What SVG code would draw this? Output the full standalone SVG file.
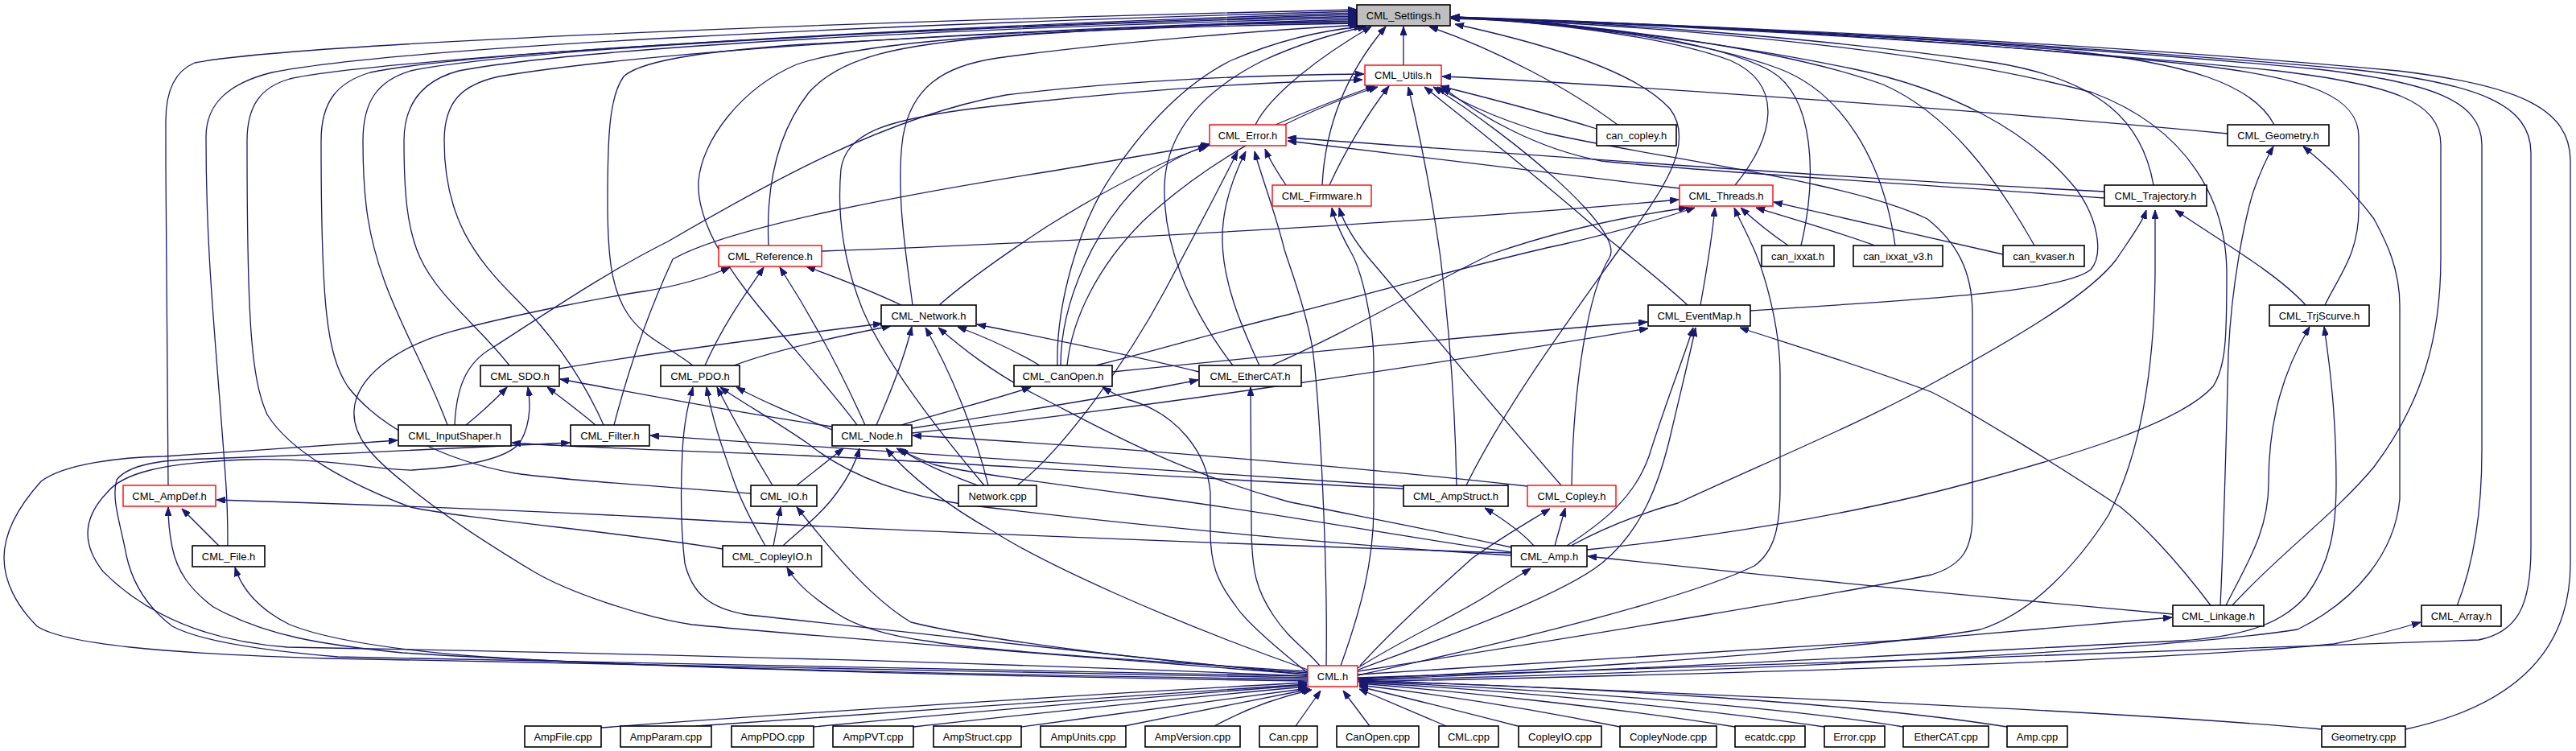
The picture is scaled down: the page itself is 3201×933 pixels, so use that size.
<svg xmlns="http://www.w3.org/2000/svg" width="3201" height="933" viewBox="0 0 3201 933">
<defs>
<marker id="a" markerWidth="11" markerHeight="8" refX="11" refY="4" orient="auto" markerUnits="userSpaceOnUse"><path d="M0,0 L11,4 L0,8 z" fill="#191970" stroke="#191970" stroke-width="1"/></marker>
</defs>
<style>
.e{fill:none;stroke:#191970;stroke-width:1.3;marker-end:url(#a)}
.n rect{fill:#fff;stroke:#000;stroke-width:1.6}
.r rect{fill:#fff;stroke:#f00;stroke-width:1.4}
.g rect{fill:#bfbfbf;stroke:#000;stroke-width:1.6}
text{font-family:"Liberation Sans",Arial,sans-serif;font-size:13px;text-anchor:middle;fill:#000}
</style>
<rect width="3201" height="933" fill="#fff"/>
<g id="edges">
<path class="e" d="M1744,81 L1744,33"/>
<path class="e" d="M1560,155 C1578,118 1640,70 1704,33"/>
<path class="e" d="M1643,230 C1646,170 1665,100 1722,33"/>
<path class="e" d="M2010,155 C1950,110 1860,62 1776,33"/>
<path class="e" d="M2826,155 C2800,105 2720,78 2560,62 C2300,40 1980,26 1803,21"/>
<path class="e" d="M2676,230 C2662,150 2610,100 2480,78 C2250,45 1970,26 1803,21"/>
<path class="e" d="M2156,230 C2205,170 2218,105 2150,75 C2060,42 1900,26 1803,21"/>
<path class="e" d="M2238,305 C2258,220 2255,120 2200,88 C2120,45 1930,26 1803,21"/>
<path class="e" d="M2355,305 C2340,200 2290,115 2210,85 C2110,48 1930,27 1803,21"/>
<path class="e" d="M2528,305 C2480,220 2420,140 2340,105 C2200,55 1950,27 1803,21"/>
<path class="e" d="M2175,386 C2350,374 2560,365 2598,335 C2615,315 2606,270 2580,235 C2520,160 2420,110 2300,85 C2130,50 1940,28 1803,22"/>
<path class="e" d="M2889,379 C2908,340 2931,315 2931,260 L2931,170 C2931,120 2870,98 2740,82 C2400,45 2000,27 1803,22"/>
<path class="e" d="M2773,753 C2830,690 2900,640 2950,580 C3010,500 3033,420 3033,320 L3033,180 C3033,125 2970,105 2830,88 C2450,50 2000,27 1803,22"/>
<path class="e" d="M3053,753 C3070,710 3084,650 3084,560 L3084,180 C3084,125 3020,102 2880,86 C2480,48 2000,27 1803,22"/>
<path class="e" d="M1687,842 C2000,830 2700,812 3080,795 C3130,785 3145,750 3145,680 L3145,190 C3145,130 3080,104 2930,87 C2500,48 2000,27 1803,22"/>
<path class="e" d="M2989,906 C3110,880 3194,820 3194,700 L3194,200 C3194,135 3130,106 2980,88 C2550,48 2000,27 1803,22"/>
<path class="e" d="M1972,683 C2120,668 2300,640 2440,602 C2580,565 2710,525 2750,480 C2766,455 2767,420 2767,340 C2767,250 2720,160 2600,115 C2380,55 2000,28 1803,23"/>
<path class="e" d="M1822,603 C1870,505 1955,390 2012,310 C2060,245 2110,180 2075,135 C2030,85 1900,50 1808,30"/>
<path class="e" d="M209,603 C207,500 206,320 206,150 C206,112 218,88 242,78 C360,55 1000,28 1686,12"/>
<path class="e" d="M283,678 C283,640 282,615 280,590 C268,420 256,320 256,170 C256,128 285,103 338,90 C500,58 1100,30 1686,14"/>
<path class="e" d="M898,682 C780,662 580,645 510,630 C430,600 360,560 332,515 C312,470 307,400 307,175 C307,130 325,108 360,98 C460,75 1050,36 1686,16"/>
<path class="e" d="M933,613 C860,607 700,597 640,588 C550,572 470,530 432,480 C406,440 399,380 399,175 C399,125 420,102 460,90 C580,65 1100,36 1686,18"/>
<path class="e" d="M556,528 C535,470 500,410 478,350 C458,295 451,250 451,175 C451,125 470,100 510,88 C640,62 1100,36 1686,20"/>
<path class="e" d="M633,454 C595,405 545,370 522,320 C506,285 502,240 502,175 C502,128 525,100 570,88 C720,60 1150,36 1686,22"/>
<path class="e" d="M750,528 C720,460 680,410 640,370 C590,320 552,270 552,175 C552,125 575,105 620,95 C800,65 1200,38 1686,24"/>
<path class="e" d="M861,454 C830,430 800,420 780,390 C760,360 755,320 755,250 C755,170 757,120 775,95 C800,72 900,62 1000,55 C1300,38 1550,28 1686,26"/>
<path class="e" d="M955,305 C952,240 962,170 1005,115 C1045,70 1120,55 1250,45 C1420,33 1580,28 1686,28"/>
<path class="e" d="M1065,528 C1030,480 960,405 925,358 C885,305 866,260 868,225 C872,175 920,110 990,80 C1080,50 1300,35 1686,29"/>
<path class="e" d="M1134,379 C1128,330 1112,240 1122,170 C1132,110 1170,82 1240,72 C1400,50 1600,36 1688,31"/>
<path class="e" d="M1314,454 C1312,380 1340,280 1380,220 C1420,160 1470,105 1530,75 C1600,45 1660,36 1694,33"/>
<path class="e" d="M1532,454 C1475,380 1445,300 1447,230 C1450,160 1500,110 1570,75 C1620,52 1665,40 1698,33"/>
<path class="e" d="M1585,155 C1620,140 1670,120 1708,107"/>
<path class="e" d="M1652,230 C1670,190 1700,140 1726,107"/>
<path class="e" d="M1984,160 C1920,140 1850,122 1790,107"/>
<path class="e" d="M2768,166 C2500,140 2000,104 1792,95"/>
<path class="e" d="M2615,246 C2400,230 2100,212 1990,200 C1910,185 1840,145 1792,108"/>
<path class="e" d="M565,528 C567,480 580,450 612,432 C700,375 760,335 830,300 C950,230 1100,145 1250,118 C1400,100 1560,93 1695,92"/>
<path class="e" d="M1687,834 C2000,785 2300,735 2400,714 C2440,702 2451,680 2451,640 L2451,390 C2451,335 2430,300 2395,272 C2300,225 2050,195 1920,165 C1850,145 1805,120 1786,108"/>
<path class="e" d="M1810,603 C1808,500 1800,400 1790,320 C1776,220 1760,150 1750,108"/>
<path class="e" d="M2097,379 C2060,345 2025,318 2000,298 C1900,210 1810,140 1770,108"/>
<path class="e" d="M1953,603 C1955,470 1975,360 2000,320 C2020,285 1880,170 1781,108"/>
<path class="e" d="M1326,454 C1332,395 1365,330 1420,275 C1500,200 1610,140 1712,108"/>
<path class="e" d="M1223,603 C1170,540 1100,450 1072,385 C1048,325 1040,265 1045,210 C1052,165 1100,150 1200,136 C1400,112 1560,102 1693,99"/>
<path class="e" d="M1598,230 C1588,215 1578,200 1572,185"/>
<path class="e" d="M2087,234 C1900,212 1720,190 1600,175"/>
<path class="e" d="M2615,238 C2300,222 1900,192 1600,171"/>
<path class="e" d="M1167,379 C1200,350 1245,318 1300,282 C1380,232 1450,197 1500,182"/>
<path class="e" d="M1264,603 C1320,560 1400,450 1448,360 C1480,300 1512,240 1538,188"/>
<path class="e" d="M1318,454 C1318,375 1360,282 1420,225 C1450,200 1478,188 1503,180"/>
<path class="e" d="M1565,454 C1540,400 1520,350 1519,300 C1518,260 1532,220 1548,188"/>
<path class="e" d="M1648,827 C1650,700 1640,500 1631,433 C1622,380 1602,330 1596,310 C1585,265 1566,215 1559,188"/>
<path class="e" d="M763,528 C778,470 800,400 836,322 C900,285 1100,245 1310,212 C1400,197 1460,186 1503,179"/>
<path class="e" d="M1666,827 C1690,760 1707,700 1707,630 L1707,450 C1707,400 1692,335 1678,312 C1667,292 1658,272 1655,258"/>
<path class="e" d="M1940,603 C1850,500 1752,380 1702,322 C1682,298 1670,278 1664,258"/>
<path class="e" d="M2113,379 C2120,340 2127,300 2131,258"/>
<path class="e" d="M2222,305 C2200,290 2178,272 2163,258"/>
<path class="e" d="M2330,305 C2280,287 2222,270 2182,258"/>
<path class="e" d="M2489,316 C2400,296 2280,268 2204,251"/>
<path class="e" d="M1687,839 C1900,792 2100,742 2180,703 C2205,685 2212,655 2212,605 L2212,465 C2212,405 2192,335 2176,302 C2167,282 2160,270 2155,258"/>
<path class="e" d="M1362,454 C1450,432 1540,405 1600,391 C1750,352 1880,316 1940,304 C2010,288 2070,270 2106,258"/>
<path class="e" d="M1580,454 C1680,410 1790,345 1855,315 C1950,282 2040,266 2097,258"/>
<path class="e" d="M1021,312 C1300,302 1800,275 2086,248"/>
<path class="e" d="M2865,379 C2830,340 2760,300 2703,261"/>
<path class="e" d="M1687,843 C2000,830 2350,802 2461,782 C2525,762 2582,700 2620,640 C2662,560 2677,450 2678,340 L2678,261"/>
<path class="e" d="M1952,678 C2000,652 2045,636 2085,625 C2200,572 2320,522 2400,477 C2520,412 2600,362 2630,322 C2650,292 2662,276 2667,261"/>
<path class="e" d="M2759,752 C2764,650 2767,520 2769,440 C2773,350 2790,270 2800,238 C2810,210 2819,192 2825,182"/>
<path class="e" d="M1687,845 C2200,834 2700,806 2855,782 C2930,745 2976,685 2982,620 L2982,380 C2982,330 2962,295 2950,272 C2920,232 2890,205 2862,182"/>
<path class="e" d="M2766,752 C2792,700 2819,660 2819,600 C2819,520 2838,460 2870,406"/>
<path class="e" d="M1687,844 C2100,830 2500,806 2710,796 C2800,790 2840,770 2866,740 C2895,700 2903,660 2903,600 C2903,520 2896,460 2888,406"/>
<path class="e" d="M1687,838 C2000,820 2300,800 2400,793 C2500,785 2600,775 2699,767"/>
<path class="e" d="M1687,847 C2200,836 2700,820 2900,800 C2950,790 2985,780 3008,773"/>
<path class="e" d="M1382,462 C1600,440 1850,415 2047,400"/>
<path class="e" d="M1133,538 C1400,510 1800,450 2048,408"/>
<path class="e" d="M1947,678 C1990,650 2030,620 2049,567 C2070,500 2090,450 2104,407"/>
<path class="e" d="M1688,832 C1800,790 1940,740 1990,700 C2040,660 2062,600 2076,540 C2090,480 2100,440 2107,407"/>
<path class="e" d="M2747,752 C2700,690 2660,650 2635,630 C2560,580 2450,512 2400,487 C2300,450 2200,420 2162,407"/>
<path class="e" d="M1932,678 L1945,631"/>
<path class="e" d="M1690,827 C1740,772 1800,720 1830,693 C1870,665 1900,648 1926,632"/>
<path class="e" d="M1906,678 C1890,660 1868,645 1845,631"/>
<path class="e" d="M2700,763 C2500,745 2200,716 1973,691"/>
<path class="e" d="M1687,830 C1750,790 1820,760 1860,732 C1880,720 1893,712 1902,706"/>
<path class="e" d="M990,603 L1048,557"/>
<path class="e" d="M973,678 C992,660 1020,640 1040,612 C1055,592 1064,572 1068,557"/>
<path class="e" d="M1215,603 C1180,590 1142,575 1118,557"/>
<path class="e" d="M1878,686 C1750,668 1600,640 1450,620 C1300,600 1200,587 1160,577 C1140,569 1126,563 1114,557"/>
<path class="e" d="M1625,832 C1450,770 1300,702 1234,660 C1180,630 1130,592 1101,557"/>
<path class="e" d="M1898,604 C1700,582 1400,556 1134,541"/>
<path class="e" d="M695,458 C800,440 950,420 1096,402"/>
<path class="e" d="M912,454 C960,436 1030,420 1107,405"/>
<path class="e" d="M1089,528 C1110,480 1125,440 1133,406"/>
<path class="e" d="M1228,603 C1210,530 1180,460 1150,407"/>
<path class="e" d="M1292,454 C1262,436 1222,418 1190,406"/>
<path class="e" d="M1490,462 C1400,440 1300,420 1214,403"/>
<path class="e" d="M1878,680 C1750,652 1660,636 1600,623 C1450,582 1350,522 1290,492 C1232,462 1195,432 1166,407"/>
<path class="e" d="M876,454 C900,400 930,360 949,332"/>
<path class="e" d="M1075,528 C1040,450 1000,380 969,332"/>
<path class="e" d="M1120,379 C1080,360 1040,345 1002,331"/>
<path class="e" d="M1625,838 C1300,812 1000,790 860,776 C795,766 705,735 663,710 C600,672 540,632 505,602 C462,568 438,542 440,510 C442,470 490,432 560,412 C650,388 760,368 800,362 C850,354 880,344 907,332"/>
<path class="e" d="M1625,838 C1300,806 1050,776 930,764 C880,756 860,736 851,700 C845,650 846,600 848,560 C850,522 856,500 861,481"/>
<path class="e" d="M951,678 C935,650 920,622 910,592 C896,552 885,520 878,481"/>
<path class="e" d="M960,603 C940,570 912,522 891,481"/>
<path class="e" d="M1034,534 C990,516 950,500 915,481"/>
<path class="e" d="M1878,690 C1700,680 1400,652 1200,627 C1100,612 1040,580 1004,551 C962,522 922,500 895,481"/>
<path class="e" d="M579,528 C600,511 616,496 630,481"/>
<path class="e" d="M740,528 C720,511 700,496 680,481"/>
<path class="e" d="M1034,530 C900,510 800,490 696,471"/>
<path class="e" d="M1625,840 C1200,822 800,812 357,804 C250,796 178,760 128,710 C98,672 106,640 133,612 C152,588 200,575 306,571 C400,568 480,585 512,584 C580,580 630,570 646,550 C658,530 660,505 656,481"/>
<path class="e" d="M1625,842 C1200,836 800,826 408,818 C200,812 80,800 46,778 C20,752 5,722 5,693 C5,660 24,628 51,598 C80,576 150,568 204,567 C300,561 400,553 494,547"/>
<path class="e" d="M1744,607 C1500,596 1200,575 1000,566 C850,560 700,555 636,550"/>
<path class="e" d="M1744,604 C1600,594 1200,566 808,541"/>
<path class="e" d="M1625,840 C1200,832 800,826 420,816 C300,806 240,792 214,778 C180,752 164,722 157,690 C150,652 138,620 145,596 C160,577 200,571 255,570 C400,565 600,556 708,550"/>
<path class="e" d="M272,678 L226,632"/>
<path class="e" d="M1625,844 C1200,838 800,830 500,811 C400,801 330,790 265,754 C236,732 220,710 214,680 C210,660 209,648 209,630"/>
<path class="e" d="M1878,687 C1500,675 1000,655 800,642 C600,632 400,625 269,621"/>
<path class="e" d="M1625,846 C1200,840 800,829 600,816 C470,806 400,792 360,776 C320,756 300,730 292,705"/>
<path class="e" d="M961,678 L970,630"/>
<path class="e" d="M1625,836 C1400,820 1200,790 1132,773 C1080,742 1030,680 990,630"/>
<path class="e" d="M1625,834 C1400,820 1200,806 1157,797 C1100,790 1060,776 1040,762 C1010,742 990,726 978,705"/>
<path class="e" d="M1120,528 C1180,510 1240,495 1281,481"/>
<path class="e" d="M1625,836 C1580,800 1545,768 1535,752 C1512,722 1504,700 1504,660 L1504,612 C1500,562 1462,512 1400,496 C1390,492 1380,487 1370,481"/>
<path class="e" d="M1133,532 C1250,514 1400,490 1489,472"/>
<path class="e" d="M1640,827 C1622,805 1602,795 1582,764 C1562,734 1555,712 1555,650 L1554,481"/>
<path class="e" d="M747,904 C1000,885 1400,860 1624,848"/>
<path class="e" d="M865,902 C1100,885 1450,862 1624,850"/>
<path class="e" d="M1011,903 C1200,885 1480,862 1624,851"/>
<path class="e" d="M1135,903 C1300,885 1500,864 1624,853"/>
<path class="e" d="M1269,903 C1400,885 1550,866 1626,855"/>
<path class="e" d="M1397,902 C1480,885 1580,866 1628,856"/>
<path class="e" d="M1509,902 C1540,885 1580,868 1630,857"/>
<path class="e" d="M1610,902 L1641,858"/>
<path class="e" d="M1702,902 L1669,858"/>
<path class="e" d="M1797,902 L1689,856"/>
<path class="e" d="M1886,902 C1800,880 1740,865 1689,853"/>
<path class="e" d="M2013,903 C1900,880 1780,862 1689,851"/>
<path class="e" d="M2156,903 C2000,878 1800,858 1689,849"/>
<path class="e" d="M2267,903 C2100,878 1850,856 1689,848"/>
<path class="e" d="M2365,903 C2200,876 1900,855 1689,847"/>
<path class="e" d="M2494,903 C2300,872 1950,853 1689,846"/>
<path class="e" d="M2885,906 C2600,880 2000,858 1689,845"/>
</g>
<g id="n_settings" class="g"><rect x="1686" y="6" width="116" height="26"/><text x="1744" y="24">CML_Settings.h</text></g>
<g id="n_utils" class="r"><rect x="1696" y="81" width="95" height="25"/><text x="1743.5" y="98">CML_Utils.h</text></g>
<g id="n_error" class="r"><rect x="1503" y="155" width="95" height="26"/><text x="1550.5" y="173">CML_Error.h</text></g>
<g id="n_cancopley" class="n"><rect x="1984" y="155" width="99" height="26"/><text x="2033.5" y="173">can_copley.h</text></g>
<g id="n_geometry" class="n"><rect x="2768" y="155" width="126" height="26"/><text x="2831" y="173">CML_Geometry.h</text></g>
<g id="n_firmware" class="r"><rect x="1581" y="230" width="123" height="26"/><text x="1642.5" y="248">CML_Firmware.h</text></g>
<g id="n_threads" class="r"><rect x="2087" y="230" width="116" height="26"/><text x="2145" y="248">CML_Threads.h</text></g>
<g id="n_trajectory" class="n"><rect x="2615" y="230" width="127" height="26"/><text x="2678.5" y="248">CML_Trajectory.h</text></g>
<g id="n_reference" class="r"><rect x="893" y="305" width="128" height="26"/><text x="957" y="323">CML_Reference.h</text></g>
<g id="n_canixxat" class="n"><rect x="2189" y="305" width="90" height="26"/><text x="2234" y="323">can_ixxat.h</text></g>
<g id="n_canixxatv3" class="n"><rect x="2303" y="305" width="111" height="26"/><text x="2358.5" y="323">can_ixxat_v3.h</text></g>
<g id="n_cankvaser" class="n"><rect x="2489" y="305" width="101" height="26"/><text x="2539.5" y="323">can_kvaser.h</text></g>
<g id="n_network" class="n"><rect x="1095" y="379" width="118" height="26"/><text x="1154" y="397">CML_Network.h</text></g>
<g id="n_eventmap" class="n"><rect x="2048" y="379" width="127" height="26"/><text x="2111.5" y="397">CML_EventMap.h</text></g>
<g id="n_trjscurve" class="n"><rect x="2820" y="379" width="124" height="26"/><text x="2882" y="397">CML_TrjScurve.h</text></g>
<g id="n_sdo" class="n"><rect x="597" y="454" width="98" height="26"/><text x="646" y="472">CML_SDO.h</text></g>
<g id="n_pdo" class="n"><rect x="821" y="454" width="98" height="26"/><text x="870" y="472">CML_PDO.h</text></g>
<g id="n_canopen" class="n"><rect x="1260" y="454" width="122" height="26"/><text x="1321" y="472">CML_CanOpen.h</text></g>
<g id="n_ethercat" class="n"><rect x="1490" y="454" width="127" height="26"/><text x="1553.5" y="472">CML_EtherCAT.h</text></g>
<g id="n_inputshaper" class="n"><rect x="495" y="528" width="140" height="26"/><text x="565" y="546">CML_InputShaper.h</text></g>
<g id="n_filter" class="n"><rect x="709" y="528" width="98" height="26"/><text x="758" y="546">CML_Filter.h</text></g>
<g id="n_node" class="n"><rect x="1034" y="528" width="99" height="26"/><text x="1083.5" y="546">CML_Node.h</text></g>
<g id="n_ampdef" class="r"><rect x="153" y="603" width="115" height="26"/><text x="210.5" y="621">CML_AmpDef.h</text></g>
<g id="n_io" class="n"><rect x="933" y="603" width="82" height="26"/><text x="974" y="621">CML_IO.h</text></g>
<g id="n_networkcpp" class="n"><rect x="1191" y="603" width="97" height="26"/><text x="1239.5" y="621">Network.cpp</text></g>
<g id="n_ampstruct" class="n"><rect x="1744" y="603" width="130" height="26"/><text x="1809" y="621">CML_AmpStruct.h</text></g>
<g id="n_copley" class="r"><rect x="1898" y="603" width="110" height="26"/><text x="1953" y="621">CML_Copley.h</text></g>
<g id="n_file" class="n"><rect x="239" y="678" width="90" height="26"/><text x="284" y="696">CML_File.h</text></g>
<g id="n_copleyio" class="n"><rect x="898" y="678" width="123" height="26"/><text x="959.5" y="696">CML_CopleyIO.h</text></g>
<g id="n_amp" class="n"><rect x="1878" y="678" width="94" height="26"/><text x="1925" y="696">CML_Amp.h</text></g>
<g id="n_linkage" class="n"><rect x="2700" y="752" width="113" height="26"/><text x="2756.5" y="770">CML_Linkage.h</text></g>
<g id="n_array" class="n"><rect x="3009" y="752" width="99" height="26"/><text x="3058.5" y="770">CML_Array.h</text></g>
<g id="n_cml" class="r"><rect x="1625" y="827" width="62" height="26"/><text x="1656" y="845">CML.h</text></g>
<g id="n_ampfile" class="n"><rect x="652" y="902" width="95" height="26"/><text x="699.5" y="920">AmpFile.cpp</text></g>
<g id="n_ampparam" class="n"><rect x="771" y="902" width="113" height="26"/><text x="827.5" y="920">AmpParam.cpp</text></g>
<g id="n_amppdo" class="n"><rect x="909" y="902" width="102" height="26"/><text x="960" y="920">AmpPDO.cpp</text></g>
<g id="n_amppvt" class="n"><rect x="1035" y="902" width="100" height="26"/><text x="1085" y="920">AmpPVT.cpp</text></g>
<g id="n_ampstructcpp" class="n"><rect x="1160" y="902" width="109" height="26"/><text x="1214.5" y="920">AmpStruct.cpp</text></g>
<g id="n_ampunits" class="n"><rect x="1293" y="902" width="106" height="26"/><text x="1346" y="920">AmpUnits.cpp</text></g>
<g id="n_ampversion" class="n"><rect x="1423" y="902" width="118" height="26"/><text x="1482" y="920">AmpVersion.cpp</text></g>
<g id="n_cancpp" class="n"><rect x="1565" y="902" width="72" height="26"/><text x="1601" y="920">Can.cpp</text></g>
<g id="n_canopencpp" class="n"><rect x="1661" y="902" width="102" height="26"/><text x="1712" y="920">CanOpen.cpp</text></g>
<g id="n_cmlcpp" class="n"><rect x="1788" y="902" width="74" height="26"/><text x="1825" y="920">CML.cpp</text></g>
<g id="n_copleyiocpp" class="n"><rect x="1887" y="902" width="103" height="26"/><text x="1938.5" y="920">CopleyIO.cpp</text></g>
<g id="n_copleynode" class="n"><rect x="2013" y="902" width="120" height="26"/><text x="2073" y="920">CopleyNode.cpp</text></g>
<g id="n_ecatdc" class="n"><rect x="2156" y="902" width="87" height="26"/><text x="2199.5" y="920">ecatdc.cpp</text></g>
<g id="n_errorcpp" class="n"><rect x="2267" y="902" width="75" height="26"/><text x="2304.5" y="920">Error.cpp</text></g>
<g id="n_ethercatcpp" class="n"><rect x="2365" y="902" width="106" height="26"/><text x="2418" y="920">EtherCAT.cpp</text></g>
<g id="n_ampcpp" class="n"><rect x="2494" y="902" width="75" height="26"/><text x="2531.5" y="920">Amp.cpp</text></g>
<g id="n_geometrycpp" class="n"><rect x="2885" y="902" width="104" height="26"/><text x="2937" y="920">Geometry.cpp</text></g>
</svg>
